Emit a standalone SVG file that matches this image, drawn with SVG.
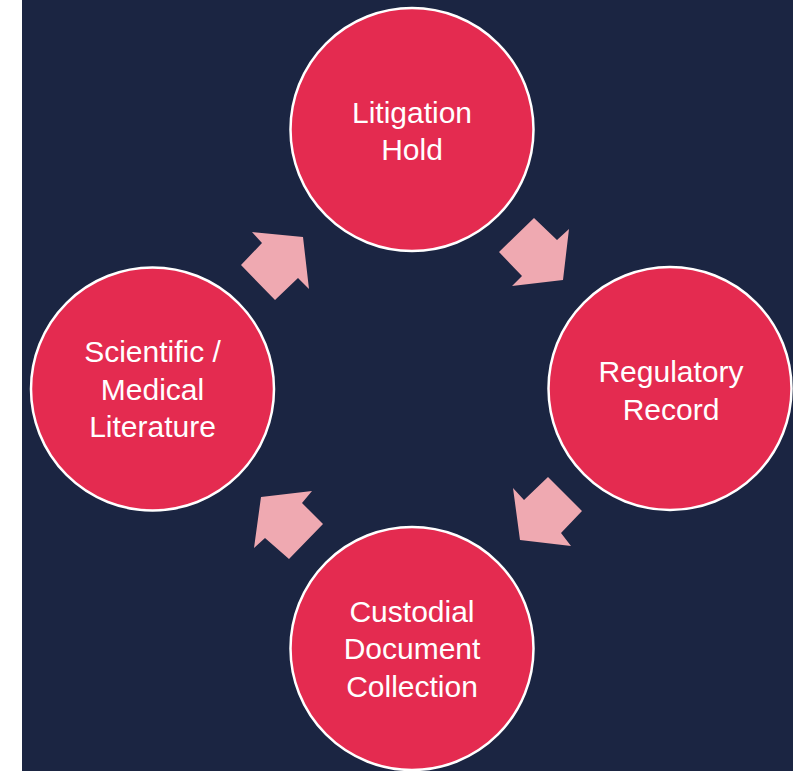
<svg xmlns="http://www.w3.org/2000/svg" width="793" height="771" viewBox="0 0 793 771">
  <style>
    .node circle { fill: #E42B50; stroke: #FFFFFF; stroke-width: 2.5; }
    .node text { font-family: "Liberation Sans", Arial, sans-serif; font-size: 30px; fill: #FFFFFF; text-anchor: middle; }
    .arrow { fill: #EFA9B1; stroke: none; }
  </style>
  <rect x="0" y="0" width="793" height="771" fill="#FFFFFF"/>
  <rect x="22" y="0" width="771" height="771" fill="#1B2542"/>

  <!-- cycle arrows -->
  <g id="connectors">
    <polygon class="arrow" points="252,232 303,237 309,289 298,278 275,300 241,265 262,243"/>
    <polygon class="arrow" points="534,218 557,240 569,229 563,280 512,286 522,276 499,252"/>
    <polygon class="arrow" points="548,477 582,511 561,533 571,546 520,540 513,488 524,500"/>
    <polygon class="arrow" points="312,491 302,503 323,524 289,559 265,538 254,548 261,497"/>
  </g>

  <g id="litigation-hold" class="node">
    <circle cx="412" cy="129.5" r="121.5"/>
    <text x="412" y="122.5">Litigation</text>
    <text x="412" y="160">Hold</text>
  </g>

  <g id="regulatory-record" class="node">
    <circle cx="670" cy="388.5" r="121.5"/>
    <text x="671" y="381.5">Regulatory</text>
    <text x="671" y="419.5">Record</text>
  </g>

  <g id="custodial-document-collection" class="node">
    <circle cx="412" cy="648.5" r="121.5"/>
    <text x="412" y="621.5">Custodial</text>
    <text x="412" y="659">Document</text>
    <text x="412" y="696.5">Collection</text>
  </g>

  <g id="scientific-medical-literature" class="node">
    <circle cx="152.5" cy="389" r="121.5"/>
    <text x="152.5" y="361.5">Scientific /</text>
    <text x="152.5" y="399.5">Medical</text>
    <text x="152.5" y="436.5">Literature</text>
  </g>
</svg>
